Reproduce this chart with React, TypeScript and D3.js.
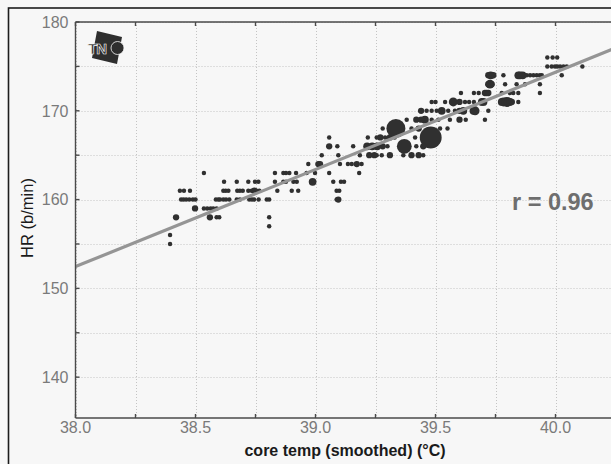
import React from 'react';
import * as d3 from 'd3';

// ---- data ----
const yMajorTicks = [140, 150, 160, 170, 180];
const yMinorTicks = [140, 145, 150, 155, 160, 165, 170, 175, 180];
const xMajorTicks = [38.0, 38.5, 39.0, 39.5, 40.0];
const xMinorTicks = [38.0, 38.25, 38.5, 38.75, 39.0, 39.25, 39.5, 39.75, 40.0, 40.25];
const regressionLine: [number, number][] = [[38.0, 152.45], [40.25, 177.07]];
const rLabel = 'r = 0.96';
const xAxisTitle = 'core temp (smoothed) (°C)';
const yAxisTitle = 'HR (b/min)';

// [core temp, HR, count]
const scatterPoints: [number, number, number][] = [
  [38.394, 156, 1], [38.394, 155, 1], [38.419, 158, 2],
  [38.435, 161, 1], [38.452, 161, 1], [38.477, 161, 1],
  [38.44, 160, 1], [38.45, 160, 1], [38.461, 160, 1], [38.474, 160, 1], [38.489, 160, 1], [38.5, 160, 1],
  [38.498, 159, 2], [38.535, 163, 1],
  [38.535, 159, 1], [38.549, 159, 1], [38.563, 159, 1], [38.574, 159, 1], [38.588, 159, 1],
  [38.56, 158, 2], [38.588, 158, 1], [38.599, 158, 1],
  [38.619, 162, 1], [38.672, 162, 1], [38.72, 162, 1], [38.748, 162, 1], [38.762, 162, 1],
  [38.616, 161, 1], [38.626, 161, 1], [38.637, 161, 1], [38.674, 161, 1], [38.685, 161, 1], [38.697, 161, 1],
  [38.72, 161, 1], [38.734, 161, 1], [38.745, 161, 2], [38.755, 161, 1], [38.766, 161, 1],
  [38.585, 160, 1], [38.595, 160, 1], [38.602, 160, 1], [38.616, 160, 1], [38.627, 160, 1], [38.641, 160, 1],
  [38.672, 160, 1], [38.685, 160, 1], [38.724, 160, 1], [38.735, 160, 1], [38.744, 160, 1], [38.763, 160, 1],
  [38.797, 160, 1], [38.807, 160, 1],
  [38.807, 158, 1], [38.807, 157, 1],
  [38.831, 163, 1], [38.866, 163, 1], [38.877, 163, 1], [38.891, 163, 1], [38.919, 163, 1], [38.963, 163, 1],
  [38.998, 163, 1], [39.057, 163, 1], [39.182, 163, 1],
  [38.831, 162, 1], [38.866, 162, 1], [38.877, 162, 1], [38.908, 162, 1], [38.922, 162, 1], [38.988, 162, 3],
  [39.074, 162, 1], [39.106, 162, 1], [39.119, 162, 1],
  [38.841, 161, 1], [38.901, 161, 1], [38.928, 161, 1], [39.088, 161, 1], [39.099, 161, 1],
  [39.088, 160, 1], [39.095, 160, 2],
  [38.97, 164, 1], [39.012, 164, 2], [39.019, 164, 2], [39.102, 164, 1], [39.135, 164, 1], [39.151, 164, 1],
  [39.172, 164, 2], [39.192, 164, 1],
  [39.026, 165, 1], [39.095, 165, 1], [39.185, 165, 1],
  [39.057, 166, 2], [39.091, 166, 1], [39.157, 166, 1],
  [39.057, 167, 1], [39.218, 167, 1], [39.255, 167, 1],
  [39.215, 166, 3], [39.236, 166, 3], [39.257, 166, 3], [39.224, 165, 2], [39.245, 165, 2],
  [39.29, 167, 1], [39.31, 167, 2], [39.415, 167, 1], [39.27, 167, 2], [39.33, 167, 1],
  [39.276, 165, 1], [39.366, 165, 1], [39.449, 165, 1], [39.31, 165, 2], [39.255, 165, 1], [39.4, 165, 2], [39.43, 165, 2],
  [39.25, 166, 2], [39.28, 166, 2], [39.3, 166, 1], [39.42, 166, 1],
  [39.335, 168, 18], [39.48, 167, 24], [39.37, 166, 11],
  [39.28, 168, 1], [39.4, 168, 1], [39.43, 168, 2], [39.55, 168, 1],
  [39.38, 169, 1], [39.456, 169, 3], [39.484, 169, 1], [39.512, 169, 1], [39.56, 169, 1], [39.626, 169, 1],
  [39.42, 169, 2], [39.44, 169, 2], [39.6, 169, 2],
  [39.519, 168, 1], [39.449, 166, 2],
  [39.463, 170, 1], [39.484, 170, 1], [39.505, 170, 1], [39.526, 170, 3], [39.553, 170, 1], [39.581, 170, 1],
  [39.616, 170, 3], [39.658, 170, 1], [39.44, 170, 2], [39.6, 170, 2],
  [39.484, 171, 1], [39.54, 171, 1], [39.574, 171, 4], [39.623, 171, 1], [39.5, 171, 1], [39.6, 171, 2],
  [39.64, 171, 1], [39.66, 171, 1],
  [39.606, 172, 1], [39.66, 172, 1], [39.68, 172, 1],
  [39.966, 176, 1], [39.988, 176, 1], [40.007, 176, 1],
  [39.966, 175, 1], [39.984, 175, 1], [39.998, 175, 1], [40.007, 175, 1], [40.019, 175, 1], [40.033, 175, 1],
  [40.047, 175, 1], [40.112, 175, 1],
  [39.72, 174, 2], [39.73, 174, 3], [39.741, 174, 2], [39.783, 174, 1], [39.845, 174, 3], [39.852, 174, 3],
  [39.863, 174, 3], [39.88, 174, 1], [39.894, 174, 1], [39.908, 174, 1], [39.922, 174, 1], [39.935, 174, 1],
  [39.943, 174, 1], [40.026, 174, 1],
  [39.72, 173, 2], [39.727, 173, 4], [39.734, 173, 2], [39.79, 173, 1], [39.838, 173, 1], [39.873, 173, 1],
  [39.935, 173, 1],
  [39.706, 172, 2], [39.713, 172, 2], [39.72, 172, 2], [39.776, 172, 1], [39.81, 172, 1], [39.824, 172, 1],
  [39.845, 172, 1], [39.935, 172, 1],
  [39.693, 171, 3], [39.7, 171, 3], [39.776, 171, 3], [39.783, 171, 4], [39.797, 171, 5], [39.803, 171, 4],
  [39.81, 171, 3], [39.818, 171, 2], [39.845, 171, 1],
  [39.658, 170, 3], [39.665, 170, 4], [39.72, 170, 1],
  [39.706, 169, 1],
];

export default function App() {
  const W = 611;
  const H = 464;
  const left = 75.5;
  const top = 22;
  const bottom = 418;
  const right = 615.5;
  const x = d3.scaleLinear().domain([38, 40.25]).range([left, right]);
  const y = d3.scaleLinear().domain([135.4, 180]).range([bottom, top]);
  const rad = d3.scaleSqrt().domain([0, 20]).range([0, 10]);
  const line = d3.line<[number, number]>().x(d => x(d[0])).y(d => y(d[1]));
  const font = "'Liberation Sans', Arial, Helvetica, sans-serif";

  return (
    <svg width={W} height={H} style={{ position: 'absolute', left: 0, top: 0, display: 'block' }} fontFamily={font}>
      <defs>
        <clipPath id="plotClip">
          <rect x={left} y={top} width={right - left} height={bottom - top} />
        </clipPath>
      </defs>
      <rect width={W} height={H} fill="#f7f7f7" />
      <rect x={8.5} y={8} width={W} height={H} fill="none" stroke="#1c1c1c" strokeWidth={1.6} />

      {/* gridlines */}
      <g stroke="#c4c4c4" strokeWidth={1} strokeDasharray="1 2">
        {yMinorTicks.map(v => (
          <line key={'gy' + v} x1={left} x2={right} y1={Math.round(y(v)) + 0.5} y2={Math.round(y(v)) + 0.5} />
        ))}
        {xMinorTicks.map(v => (
          <line key={'gx' + v} x1={Math.round(x(v)) + 0.5} x2={Math.round(x(v)) + 0.5} y1={top} y2={bottom} />
        ))}
      </g>

      {/* points */}
      <g clipPath="url(#plotClip)" fill="#303030">
        {scatterPoints.map((p, i) => (
          <circle key={i} cx={x(p[0])} cy={y(p[1])} r={rad(p[2])} />
        ))}
      </g>

      {/* regression line */}
      <path d={line(regressionLine) || ''} clipPath="url(#plotClip)" fill="none" stroke="#959595" strokeWidth={3.2} />

      {/* axes */}
      <g stroke="#4a4a4a" strokeWidth={1.4}>
        <line x1={left} x2={left} y1={top} y2={bottom} />
        <line x1={left} x2={W} y1={bottom} y2={bottom} />
        <line x1={left} x2={W} y1={top} y2={top} />
        {yMinorTicks.map(v => (
          <line key={'ty' + v} x1={left} x2={left + 4} y1={y(v)} y2={y(v)} />
        ))}
        {xMinorTicks.map(v => (
          <g key={'tx' + v}>
            <line x1={x(v)} x2={x(v)} y1={bottom} y2={bottom - 4} />
            <line x1={x(v)} x2={x(v)} y1={top} y2={top + 4} />
          </g>
        ))}
      </g>

      {/* tick labels */}
      <g fill="#7a7a7a" fontSize={16}>
        {yMajorTicks.map(v => (
          <text key={'ly' + v} x={68.5} y={y(v)} dy="0.36em" textAnchor="end">{v}</text>
        ))}
        {xMajorTicks.map(v => (
          <text key={'lx' + v} x={x(v)} y={433} textAnchor="middle">{v.toFixed(1)}</text>
        ))}
      </g>

      {/* axis titles */}
      <text x={345} y={455.5} textAnchor="middle" fontSize={16} fontWeight="bold" fill="#1a1a1a">{xAxisTitle}</text>
      <text transform="translate(27,218) rotate(-90)" textAnchor="middle" dy="0.36em" fontSize={16.5} fill="#1a1a1a">{yAxisTitle}</text>

      {/* r label */}
      <text x={512} y={209.5} fontSize={23.5} fontWeight="bold" fill="#6e6e6e">{rLabel}</text>

      {/* logo */}
      <g>
        <polygon points="97,31 122,37 117,64 92,58" fill="#2e2e2e" />
        <text x={88} y={54} fontSize={15} fontWeight="bold" fill="#2e2e2e" stroke="#f7f7f7" strokeWidth={0.6} letterSpacing={-1}>TN</text>
        <circle cx={117.5} cy={48} r={6.5} fill="#2e2e2e" stroke="#f7f7f7" strokeWidth={0.8} />
      </g>
    </svg>
  );
}
